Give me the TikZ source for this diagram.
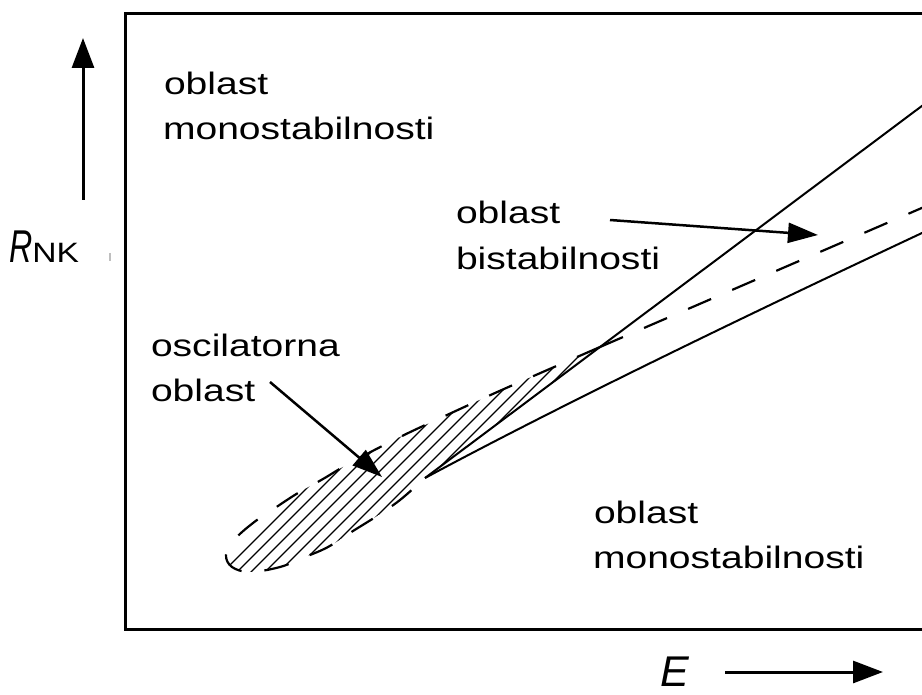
\documentclass[tikz,border=0pt]{standalone}
\usepackage{fontspec}
\setmainfont{Liberation Sans}
\usepackage{graphicx}
\usetikzlibrary{arrows.meta}
\newcommand{\widetxt}[1]{\scalebox{1.26}[1]{#1}}
\begin{document}
\begin{tikzpicture}[x=1pt,y=-1pt,
  lbl/.style={anchor=base west, inner sep=0pt, outer sep=0pt, font=\fontsize{31}{36}\selectfont},
  frame/.style={line width=3pt},
  curve/.style={line width=2pt},
  dashcurve/.style={line width=2.2pt, dash pattern=on 25pt off 23pt},
  pointer/.style={line width=2.5pt, -{Triangle[length=30pt,width=20pt]}},
  axisarrow/.style={line width=3pt, -{Triangle[length=30pt,width=22pt]}},
  hatch/.style={line width=1.1pt}]
\useasboundingbox (0,0) rectangle (922,695);
\clip (0,0) rectangle (922,695);

% frame (right side runs off the picture)
\draw[frame] (940,14) -- (125,14) -- (125,629) -- (940,629);

% key points
\coordinate (cusp) at (425,478);
\coordinate (meet) at (600,347);
\coordinate (upperEnd) at (940,92.4);
\coordinate (dashEnd) at (940,200.1);

% hatched oscillatory region
\begin{scope}
  \clip plot[smooth, tension=0.6] coordinates {(600,347) (545,371) (495,393) (447,415) (400,437) (350,463) (323,479) (298,493) (275,508) (253,523) (234,540) (226,555) (232,567) (250,572) (280,567) (305,557) (328,547) (353,531) (377,516) (400,500) (425,478)} -- cycle;
  \foreach \u in {795,809,...,947} {
    \draw[hatch] (\u-700,700) -- (\u-200,200);
  }
\end{scope}
\draw[dashcurve] plot[smooth, tension=0.6] coordinates {(600,347) (545,371) (495,393) (447,415) (400,437) (350,463) (323,479) (298,493) (275,508) (253,523) (234,540) (226,555) (232,567) (250,572) (280,567) (305,557) (328,547) (353,531) (377,516) (400,500) (425,478)};

% boundaries of the bistable region
\draw[curve] (cusp) -- (meet) -- (upperEnd);
\draw[curve] (cusp) .. controls (541.7,415.3) and (707.3,333.7) .. (922,233) -- (940,224.6);
\draw[dashcurve] (meet) -- (dashEnd);

% labels
\node[lbl] (m1a) at (164,95) {\widetxt{oblast}};
\node[lbl] (m1b) at (163,140) {\widetxt{monostabilnosti}};
\node[lbl] (b1a) at (456,224) {\widetxt{oblast}};
\node[lbl] (b1b) at (456,270) {\widetxt{bistabilnosti}};
\node[lbl] (o1a) at (151,357) {\widetxt{oscilatorna}};
\node[lbl] (o1b) at (151,402) {\widetxt{oblast}};
\node[lbl] (m2a) at (594,523) {\widetxt{oblast}};
\node[lbl] (m2b) at (593,568) {\widetxt{monostabilnosti}};

% pointers
\coordinate (bsStart) at (610,220);
\coordinate (bsEnd) at (818,235);
\coordinate (osStart) at (270,382);
\coordinate (osEnd) at (382,477);
\draw[pointer] (bsStart) -- (bsEnd);
\draw[pointer] (osStart) -- (osEnd);

% axes
\coordinate (yFrom) at (83,200);
\coordinate (yTo) at (83,38);
\coordinate (xFrom) at (725,672);
\coordinate (xTo) at (883,672);
\draw[axisarrow] (yFrom) -- (yTo);
\draw[axisarrow] (xFrom) -- (xTo);
\node[anchor=base west, inner sep=0pt] (rnk) at (9,263)
  {\fontsize{46}{50}\selectfont\scalebox{0.7}[1]{\itshape R}\fontsize{28}{30}\selectfont\scalebox{1.2}[1]{NK}};
\node[anchor=base west, inner sep=0pt] (elbl) at (660,686) {\fontsize{43}{48}\selectfont\itshape E};
\draw[gray!50, line width=1.2pt] (110,253) -- (110,261);
\end{tikzpicture}
\end{document}
